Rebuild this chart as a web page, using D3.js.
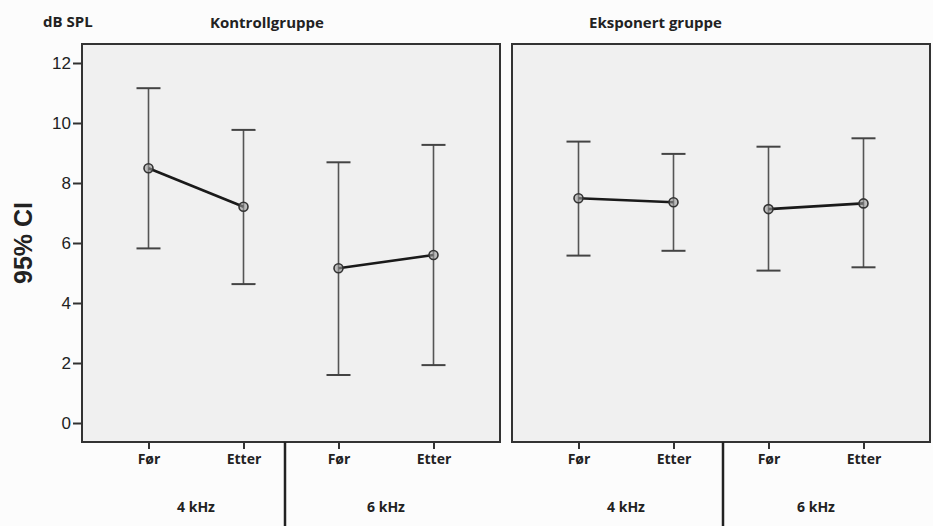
<!DOCTYPE html>
<html>
<head>
<meta charset="utf-8">
<script src="https://cdn.jsdelivr.net/npm/d3@7"></script>
<style>
  body { margin: 0; background: #fcfcfc; }
  svg { display: block; }
</style>
</head>
<body>
<div id="chart"></div>
<script>
// groups, frequencies and times
const groups = ['Kontrollgruppe', 'Eksponert gruppe'];
const freqs = ['4 kHz', '6 kHz'];
const times = ['Før', 'Etter'];
const yTicks = [0, 2, 4, 6, 8, 10, 12];

// values per group, order: 4kHz Før, 4kHz Etter, 6kHz Før, 6kHz Etter
const means = [
  [8.49, 7.21, 5.16, 5.60],
  [7.49, 7.36, 7.13, 7.32]
];
const lower = [
  [5.82, 4.63, 1.60, 1.93],
  [5.58, 5.74, 5.08, 5.19]
];
const upper = [
  [11.16, 9.77, 8.69, 9.27],
  [9.38, 8.97, 9.21, 9.49]
];

const W = 933, H = 526;
const panelTop = 44, panelBottom = 442;
const panels = [[82, 500], [512, 930]];
const titlePos = [210, 589];
const dividerShift = [-6, 2];
const labelFont = '"Open Sans", sans-serif';

const svg = d3.select('#chart').append('svg').attr('width', W).attr('height', H);

const y = d3.scaleLinear().domain([-0.633, 12.633]).range([panelBottom, panelTop]);

// y axis
const yAxis = svg.append('g').attr('transform', `translate(${panels[0][0]},0)`)
  .call(d3.axisLeft(y).tickValues(yTicks).tickSize(9).tickPadding(2));
yAxis.select('.domain').remove();
yAxis.selectAll('line').attr('stroke', '#333').attr('stroke-width', 2);
yAxis.selectAll('text').attr('font-family', '"Liberation Sans", Arial, sans-serif')
  .attr('font-size', 17).attr('fill', '#222');

svg.append('text')
  .attr('transform', `translate(32,${(y(0) + y(12)) / 2}) rotate(-90)`)
  .attr('text-anchor', 'middle')
  .attr('font-family', '"Liberation Sans", Arial, sans-serif')
  .attr('font-weight', 'bold').attr('font-size', 25).attr('fill', '#222')
  .text('95% CI');

svg.append('text').attr('x', 43).attr('y', 27)
  .attr('font-family', labelFont).attr('font-weight', 700)
  .attr('font-size', 15).attr('fill', '#222').text('dB SPL');

groups.forEach((grp, gi) => {
  const [x0, x1] = panels[gi];
  const cats = freqs.flatMap(f => times.map(t => f + '|' + t));
  const x = d3.scalePoint().domain(cats).range([x0, x1]).padding(0.7);

  svg.append('rect')
    .attr('x', x0).attr('y', panelTop)
    .attr('width', x1 - x0).attr('height', panelBottom - panelTop)
    .attr('fill', '#f0f0f0').attr('stroke', '#333').attr('stroke-width', 2);

  svg.append('text').attr('x', titlePos[gi]).attr('y', 28)
    .attr('font-family', labelFont).attr('font-weight', 700)
    .attr('font-size', 15).attr('fill', '#222').text(grp);

  // x axis
  const xAxis = svg.append('g').attr('transform', `translate(0,${panelBottom})`)
    .call(d3.axisBottom(x).tickSize(7).tickPadding(5).tickFormat(d => d.split('|')[1]));
  xAxis.select('.domain').remove();
  xAxis.selectAll('line').attr('stroke', '#333').attr('stroke-width', 2);
  xAxis.selectAll('text').attr('font-family', labelFont).attr('font-weight', 700)
    .attr('font-size', 14).attr('fill', '#222');

  // frequency labels and divider
  freqs.forEach(f => {
    const cx = (x(f + '|Før') + x(f + '|Etter')) / 2;
    svg.append('text').attr('x', cx).attr('y', 512)
      .attr('text-anchor', 'middle')
      .attr('font-family', labelFont).attr('font-weight', 700)
      .attr('font-size', 14).attr('fill', '#222').text(f);
  });
  const divX = (x(freqs[0] + '|Etter') + x(freqs[1] + '|Før')) / 2 + dividerShift[gi];
  svg.append('line').attr('x1', divX).attr('x2', divX)
    .attr('y1', panelBottom).attr('y2', H)
    .attr('stroke', '#222').attr('stroke-width', 2.5);

  // error bars
  const g = svg.append('g');
  cats.forEach((c, i) => {
    const cx = x(c);
    g.append('line').attr('x1', cx).attr('x2', cx)
      .attr('y1', y(lower[gi][i])).attr('y2', y(upper[gi][i]))
      .attr('stroke', '#555').attr('stroke-width', 1.6);
    [lower[gi][i], upper[gi][i]].forEach(v => {
      g.append('line').attr('x1', cx - 12).attr('x2', cx + 12)
        .attr('y1', y(v)).attr('y2', y(v))
        .attr('stroke', '#444').attr('stroke-width', 2);
    });
  });

  // mean lines per frequency
  freqs.forEach((f, fi) => {
    const pts = times.map((t, ti) => ({ x: x(f + '|' + t), v: means[gi][fi * 2 + ti] }));
    g.append('path')
      .attr('d', d3.line().x(d => d.x).y(d => y(d.v))(pts))
      .attr('fill', 'none').attr('stroke', '#1a1a1a').attr('stroke-width', 2.6);
    g.selectAll(null).data(pts).enter().append('circle')
      .attr('cx', d => d.x).attr('cy', d => y(d.v)).attr('r', 4.5)
      .attr('fill', '#9a9a9a').attr('fill-opacity', 0.6)
      .attr('stroke', '#333').attr('stroke-width', 1.6);
  });
});
</script>
</body>
</html>
